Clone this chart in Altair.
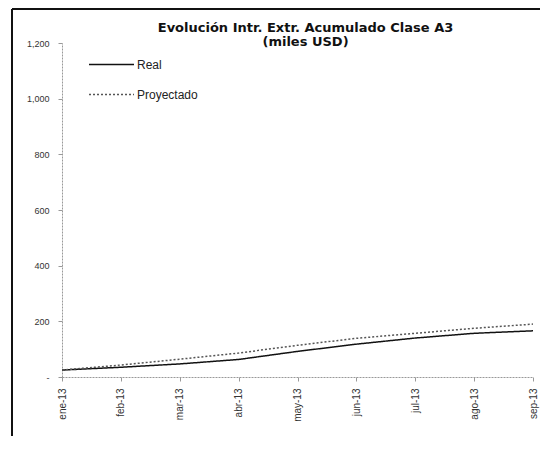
import altair as alt
import pandas as pd

months = ["ene-13", "feb-13", "mar-13", "abr-13", "may-13", "jun-13", "jul-13", "ago-13", "sep-13"]
real = [25, 35, 47, 63, 92, 118, 140, 157, 166]
proyectado = [25, 43, 64, 86, 114, 139, 157, 175, 190]
series = ["Real", "Proyectado"]

rows = []
for m, r, p in zip(months, real, proyectado):
    rows.append({"mes": m, "serie": "Real", "valor": r})
    rows.append({"mes": m, "serie": "Proyectado", "valor": p})
df = pd.DataFrame(rows)

FONT = "Liberation Sans"

lines = alt.Chart(df).mark_line(strokeWidth=1.5).encode(
    x=alt.X("mes:O", sort=months, title=None,
            scale=alt.Scale(padding=0),
            axis=alt.Axis(labelAngle=-90, labelFontSize=10, labelColor="#333",
                          domainColor="#999", domainDash=[2, 1], tickColor="#999",
                          tickSize=4, labelPadding=7)),
    y=alt.Y("valor:Q", title=None,
            scale=alt.Scale(domain=[0, 1200], nice=False),
            axis=alt.Axis(values=[0, 200, 400, 600, 800, 1000, 1200],
                          labelExpr="datum.value == 0 ? '-' : format(datum.value, ',')",
                          labelFontSize=9, labelColor="#333", grid=False,
                          domainColor="#999", domainDash=[2, 1], tickColor="#999",
                          tickSize=4, labelPadding=9)),
    color=alt.Color("serie:N", sort=series,
                    scale=alt.Scale(domain=series, range=["#111111", "#555555"]),
                    legend=alt.Legend(title=None, orient="none", legendX=26, legendY=-2,
                                      symbolType="stroke", symbolSize=2025,
                                      symbolStrokeWidth=1.5, labelFontSize=12,
                                      labelColor="#222", rowPadding=-10,
                                      labelOffset=2)),
    strokeDash=alt.StrokeDash("serie:N", sort=series,
                              scale=alt.Scale(domain=series, range=[[1, 0], [2, 2]]),
                              legend=None),
)

frame_src = alt.Data(values=[{"k": 1}])
top_border = alt.Chart(frame_src).mark_rule(color="#111", strokeWidth=2).encode(
    x=alt.value(-50), x2=alt.value(478), y=alt.value(-34))
left_border = alt.Chart(frame_src).mark_rule(color="#111", strokeWidth=2).encode(
    x=alt.value(-50), y=alt.value(-34), y2=alt.value(393))

chart = alt.layer(lines, top_border, left_border).properties(
    width=471, height=334,
    title=alt.TitleParams(["Evolución Intr. Extr. Acumulado  Clase A3", "(miles USD)"],
                          fontSize=13, fontWeight="bold", font="DejaVu Sans", color="#111",
                          anchor="middle", offset=-41, lineHeight=14, dx=8),
    autosize=alt.AutoSizeParams(type="none"),
    padding={"left": 54, "top": 35, "right": 8, "bottom": 60},
).configure(font=FONT).configure_view(stroke=None).configure_title(baseline="bottom")

chart.save("out.html", embed_options={"renderer": "svg", "actions": False})
